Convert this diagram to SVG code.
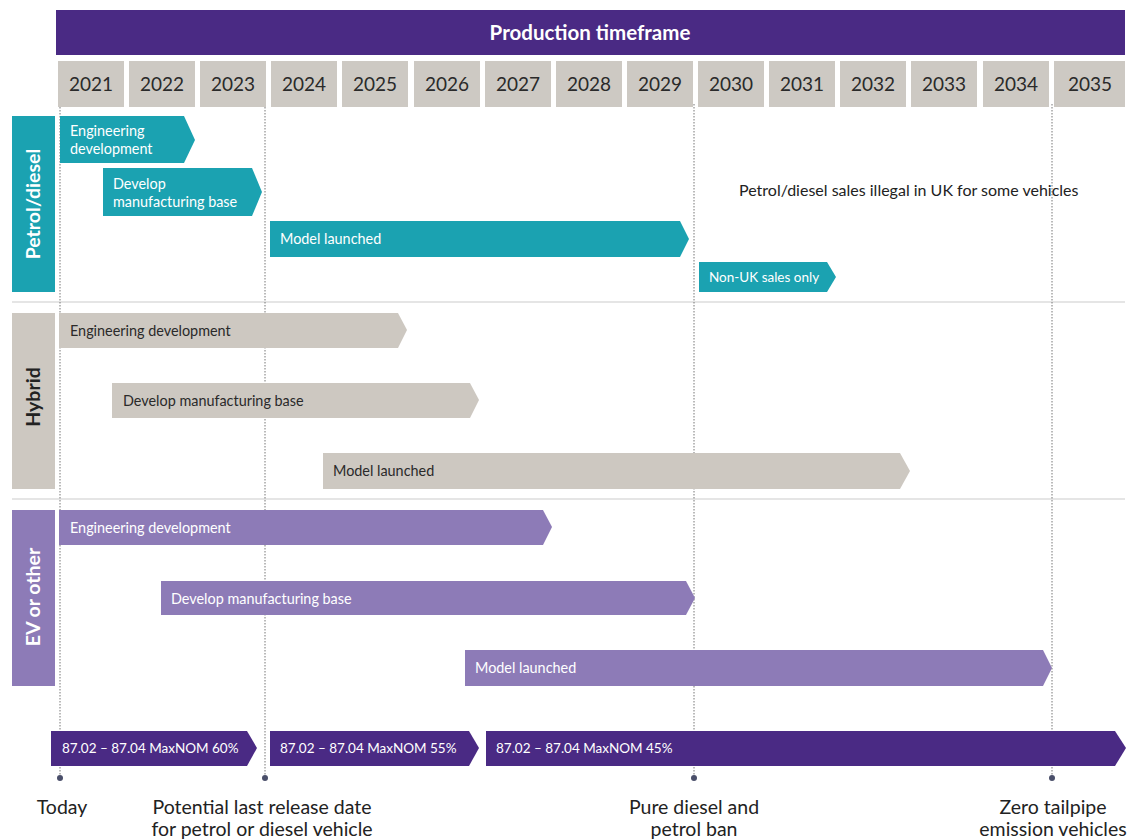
<svg xmlns="http://www.w3.org/2000/svg" width="1131" height="840" viewBox="0 0 1131 840">
<style>
text{font-family:Lato,"Liberation Sans",sans-serif}
.yr{fill:#cdc9c3}
.yt{font-size:19px;fill:#2a2a2a;text-anchor:middle}
.teal{fill:#1ba2b1}
.gray{fill:#cdc8c1}
.evp{fill:#8d7bb7}
.dk{fill:#4a2a84}
.wt{fill:#fff;font-size:14.4px}
.bt{fill:#2a2a2a;font-size:14.4px}
.nt{fill:#fff;font-size:13.5px}
.sec{font-size:19.5px;font-weight:bold;text-anchor:middle}
.lbl{font-size:19.5px;fill:#222;text-anchor:middle}
.vline{stroke:#777;stroke-width:1;stroke-dasharray:1.5 1.5;fill:none}
.sep{stroke:#ddd;stroke-width:1.5}
.dot{fill:#4a4f6a}
</style>
<rect width="1131" height="840" fill="#fff"/>
<g id="header">
<rect x="56" y="10" width="1069" height="45" class="dk"/>
<text x="590" y="40" font-size="20.5" font-weight="bold" fill="#fff" text-anchor="middle">Production timeframe</text>
</g>
<g id="years">
<rect class="yr" x="58" y="61" width="66" height="46"/><text class="yt" x="91" y="91">2021</text>
<rect class="yr" x="129" y="61" width="66" height="46"/><text class="yt" x="162" y="91">2022</text>
<rect class="yr" x="200" y="61" width="66" height="46"/><text class="yt" x="233" y="91">2023</text>
<rect class="yr" x="271" y="61" width="66" height="46"/><text class="yt" x="304" y="91">2024</text>
<rect class="yr" x="342" y="61" width="66" height="46"/><text class="yt" x="375" y="91">2025</text>
<rect class="yr" x="414" y="61" width="66" height="46"/><text class="yt" x="447" y="91">2026</text>
<rect class="yr" x="485" y="61" width="66" height="46"/><text class="yt" x="518" y="91">2027</text>
<rect class="yr" x="556" y="61" width="66" height="46"/><text class="yt" x="589" y="91">2028</text>
<rect class="yr" x="627" y="61" width="66" height="46"/><text class="yt" x="660" y="91">2029</text>
<rect class="yr" x="698" y="61" width="66" height="46"/><text class="yt" x="731" y="91">2030</text>
<rect class="yr" x="769" y="61" width="66" height="46"/><text class="yt" x="802" y="91">2031</text>
<rect class="yr" x="840" y="61" width="66" height="46"/><text class="yt" x="873" y="91">2032</text>
<rect class="yr" x="911" y="61" width="66" height="46"/><text class="yt" x="944" y="91">2033</text>
<rect class="yr" x="983" y="61" width="66" height="46"/><text class="yt" x="1016" y="91">2034</text>
<rect class="yr" x="1054" y="61" width="71" height="46"/><text class="yt" x="1090" y="91">2035</text>
</g>
<g id="separators">
<line class="sep" x1="12" y1="302" x2="1125" y2="302"/>
<line class="sep" x1="12" y1="499" x2="1125" y2="499"/>
</g>
<g id="connectors">
<line class="vline" x1="60" y1="107" x2="60" y2="776"/>
<line class="vline" x1="265" y1="107" x2="265" y2="776"/>
<line class="vline" x1="694" y1="104" x2="694" y2="776"/>
<line class="vline" x1="1052" y1="104" x2="1052" y2="776"/>
<circle class="dot" cx="60" cy="778" r="3"/>
<circle class="dot" cx="265" cy="778" r="3"/>
<circle class="dot" cx="694" cy="778" r="3"/>
<circle class="dot" cx="1052" cy="778" r="3"/>
</g>
<g id="sec-petrol">
<rect class="teal" x="12" y="116" width="43" height="176"/>
<text class="sec" fill="#fff" transform="translate(40,204) rotate(-90)">Petrol/diesel</text>
</g>
<g id="sec-hybrid">
<rect class="gray" x="12" y="313" width="43" height="176"/>
<text class="sec" fill="#222" transform="translate(40,397) rotate(-90)">Hybrid</text>
</g>
<g id="sec-ev">
<rect class="evp" x="12" y="510" width="43" height="176"/>
<text class="sec" fill="#fff" transform="translate(40,597) rotate(-90)">EV or other</text>
</g>
<g id="p-eng">
<polygon class="teal" points="60,116 184,116 195,140 184,163 60,163"/>
<text class="wt" x="70" y="136">Engineering</text>
<text class="wt" x="70" y="154">development</text>
</g>
<g id="p-mfg">
<polygon class="teal" points="103,168 252,168 262,192 252,216 103,216"/>
<text class="wt" x="113" y="189">Develop</text>
<text class="wt" x="113" y="207">manufacturing base</text>
</g>
<g id="p-model">
<polygon class="teal" points="270,221 680,221 689,239 680,257 270,257"/>
<text class="wt" x="280" y="244">Model launched</text>
</g>
<g id="p-nonuk">
<polygon class="teal" points="699,262 827,262 836,277 827,292 699,292"/>
<text class="nt" x="709" y="282">Non-UK sales only</text>
</g>
<g id="p-note">
<text x="739" y="196" font-size="16" fill="#222">Petrol/diesel sales illegal in UK for some vehicles</text>
</g>
<g id="h-eng">
<polygon class="gray" points="59,313 398,313 407,330 398,348 59,348"/>
<text class="bt" x="70" y="336">Engineering development</text>
</g>
<g id="h-mfg">
<polygon class="gray" points="112,383 470,383 479,400 470,418 112,418"/>
<text class="bt" x="123" y="406">Develop manufacturing base</text>
</g>
<g id="h-model">
<polygon class="gray" points="323,453 900,453 910,471 900,489 323,489"/>
<text class="bt" x="333" y="476">Model launched</text>
</g>
<g id="e-eng">
<polygon class="evp" points="59,510 543,510 552,527 543,545 59,545"/>
<text class="wt" x="70" y="533">Engineering development</text>
</g>
<g id="e-mfg">
<polygon class="evp" points="161,581 686,581 695,598 686,615 161,615"/>
<text class="wt" x="171" y="604">Develop manufacturing base</text>
</g>
<g id="e-model">
<polygon class="evp" points="465,650 1043,650 1052,668 1043,686 465,686"/>
<text class="wt" x="475" y="673">Model launched</text>
</g>
<g id="n-60">
<polygon class="dk" points="51,731 247,731 257,748 247,766 51,766"/>
<text class="nt" x="62" y="753">87.02 – 87.04 MaxNOM 60%</text>
</g>
<g id="n-55">
<polygon class="dk" points="270,731 469,731 479,748 469,766 270,766"/>
<text class="nt" x="280" y="753">87.02 – 87.04 MaxNOM 55%</text>
</g>
<g id="n-45">
<polygon class="dk" points="486,731 1115,731 1126,748 1115,766 486,766"/>
<text class="nt" x="496" y="753">87.02 – 87.04 MaxNOM 45%</text>
</g>
<g id="m-today"><text class="lbl" x="62" y="814">Today</text></g>
<g id="m-release">
<text class="lbl" x="262" y="814">Potential last release date</text>
<text class="lbl" x="262" y="836">for petrol or diesel vehicle</text>
</g>
<g id="m-ban">
<text class="lbl" x="694" y="814">Pure diesel and</text>
<text class="lbl" x="694" y="836">petrol ban</text>
</g>
<g id="m-zero">
<text class="lbl" x="1053" y="814">Zero tailpipe</text>
<text class="lbl" x="1053" y="836">emission vehicles</text>
</g>
</svg>
